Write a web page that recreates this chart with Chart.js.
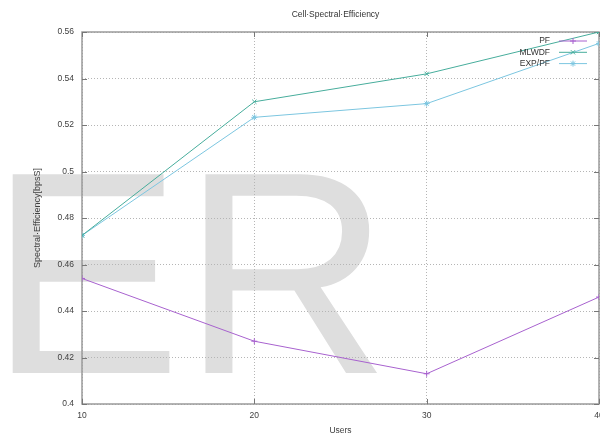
<!DOCTYPE html>
<html>
<head>
<meta charset="utf-8">
<title>Cell Spectral Efficiency</title>
<script src="https://cdn.jsdelivr.net/npm/chart.js@4/dist/chart.umd.min.js"></script>
<style>
  body { margin: 0; background: #fff; }
  canvas { display: block; }
</style>
</head>
<body>
<canvas id="effChart" width="600" height="435"></canvas>
<script>
var users = [10, 20, 30, 40];
var pfValues = [0.454, 0.427, 0.413, 0.446];
var mlwdfValues = [0.4725, 0.530, 0.542, 0.560];
var expPfValues = [0.4725, 0.5233, 0.5292, 0.5551];
var seriesNames = ['PF', 'MLWDF', 'EXP/PF'];
var xTicks = [10, 20, 30, 40];
var yTicks = [0.4, 0.42, 0.44, 0.46, 0.48, 0.5, 0.52, 0.54, 0.56];
var chartTitle = 'Cell·Spectral·Efficiency';

var fontFamily = '"Liberation Sans", Arial, sans-serif';

function toPoints(values) {
    return users.map(function (u, i) { return { x: u, y: values[i] }; });
}

// big grey "ER" mark behind the whole picture
var watermark = {
    id: 'watermark',
    beforeDraw: function (chart) {
        var ctx = chart.ctx;
        ctx.save();
        ctx.fillStyle = '#dedede';
        ctx.font = '289px ' + fontFamily;
        ctx.textAlign = 'left';
        ctx.textBaseline = 'alphabetic';
        ctx.fillText('ER', -11, 373);
        ctx.restore();
    }
};

// gnuplot style frame with small inward tick marks, title over the plot
var frame = {
    id: 'frame',
    beforeDatasetsDraw: function (chart) {
        var ctx = chart.ctx;
        var a = chart.chartArea;
        var xs = chart.scales.x, ys = chart.scales.y;
        ctx.save();
        ctx.strokeStyle = '#9a9a9a';
        ctx.lineWidth = 1.5;
        ctx.strokeRect(a.left, a.top, a.right - a.left, a.bottom - a.top);
        ctx.lineWidth = 1;
        ctx.strokeStyle = '#777';
        ctx.beginPath();
        yTicks.forEach(function (v) {
            var py = Math.round(ys.getPixelForValue(v)) + 0.5;
            ctx.moveTo(a.left, py); ctx.lineTo(a.left + 5, py);
            ctx.moveTo(a.right, py); ctx.lineTo(a.right - 5, py);
        });
        xTicks.forEach(function (v) {
            var px = Math.round(xs.getPixelForValue(v)) + 0.5;
            ctx.moveTo(px, a.bottom); ctx.lineTo(px, a.bottom - 5);
            ctx.moveTo(px, a.top); ctx.lineTo(px, a.top + 5);
        });
        ctx.stroke();

        ctx.fillStyle = '#333';
        ctx.font = '8.5px ' + fontFamily;
        ctx.textAlign = 'center';
        ctx.textBaseline = 'middle';
        ctx.fillText(chartTitle, (a.left + a.right) / 2 - 5, 15);
        ctx.restore();
    }
};

// key in the top right corner: text first, then line sample
var keyBox = {
    id: 'keyBox',
    afterDatasetsDraw: function (chart) {
        var ctx = chart.ctx;
        var a = chart.chartArea;
        ctx.save();
        ctx.font = '8.5px ' + fontFamily;
        ctx.textAlign = 'right';
        ctx.textBaseline = 'middle';
        chart.data.datasets.forEach(function (ds, i) {
            var y = a.top + 9 + i * 11.3;
            ctx.fillStyle = '#333';
            ctx.fillText(ds.label, a.right - 49, y);
            ctx.strokeStyle = ds.borderColor;
            ctx.lineWidth = 1;
            ctx.beginPath();
            ctx.moveTo(a.right - 40, y);
            ctx.lineTo(a.right - 12, y);
            ctx.stroke();
            if (Chart.helpers && Chart.helpers.drawPoint) {
                Chart.helpers.drawPoint(ctx, { pointStyle: ds.pointStyle, radius: 3, borderWidth: 1 }, a.right - 26, y);
            }
        });
        ctx.restore();
    }
};

function makeSet(name, values, color, style) {
    return {
        label: name,
        data: toPoints(values),
        borderColor: color,
        backgroundColor: color,
        borderWidth: 1,
        pointStyle: style,
        pointRadius: 3,
        pointBorderWidth: 1,
        pointHoverRadius: 3,
        tension: 0
    };
}

var ctx = document.getElementById('effChart').getContext('2d');
new Chart(ctx, {
    type: 'line',
    data: {
        datasets: [
            makeSet(seriesNames[0], pfValues, '#a862cf', 'cross'),
            makeSet(seriesNames[1], mlwdfValues, '#47ad9c', 'crossRot'),
            makeSet(seriesNames[2], expPfValues, '#7cc6e0', 'star')
        ]
    },
    options: {
        responsive: false,
        animation: false,
        events: [],
        layout: { autoPadding: false, padding: { left: 0, right: 1, top: 32, bottom: 0 } },
        plugins: {
            legend: { display: false },
            tooltip: { enabled: false },
            title: { display: false }
        },
        scales: {
            x: {
                type: 'linear',
                min: 10,
                max: 40,
                afterBuildTicks: function (s) { s.ticks = xTicks.map(function (v) { return { value: v }; }); },
                afterFit: function (s) { s.height = 31; s.paddingLeft = 0; s.paddingRight = 0; },
                grid: { color: '#b5b5b5', lineWidth: 1, drawTicks: false },
                border: { display: false, dash: [1, 2] },
                ticks: {
                    color: '#404040',
                    padding: 7,
                    maxRotation: 0,
                    font: { family: fontFamily, size: 8.5 }
                },
                title: {
                    display: true,
                    text: 'Users',
                    color: '#404040',
                    font: { family: fontFamily, size: 8.5, lineHeight: 1 },
                    padding: { top: 0, bottom: 0 }
                }
            },
            y: {
                min: 0.4,
                max: 0.56,
                afterBuildTicks: function (s) { s.ticks = yTicks.map(function (v) { return { value: v }; }); },
                afterFit: function (s) { s.width = 82; s.paddingTop = 0; s.paddingBottom = 0; },
                grid: { color: '#b5b5b5', lineWidth: 1, drawTicks: false },
                border: { display: false, dash: [1, 2] },
                ticks: {
                    color: '#404040',
                    padding: 8,
                    font: { family: fontFamily, size: 8.5 },
                    callback: function (v) { return String(Number(v.toFixed(2))); }
                },
                title: {
                    display: true,
                    text: 'Spectral·Efficiency[bpsS]',
                    color: '#404040',
                    font: { family: fontFamily, size: 9 },
                    padding: { top: 32, bottom: 0 }
                }
            }
        }
    },
    plugins: [watermark, frame, keyBox]
});
</script>
</body>
</html>
